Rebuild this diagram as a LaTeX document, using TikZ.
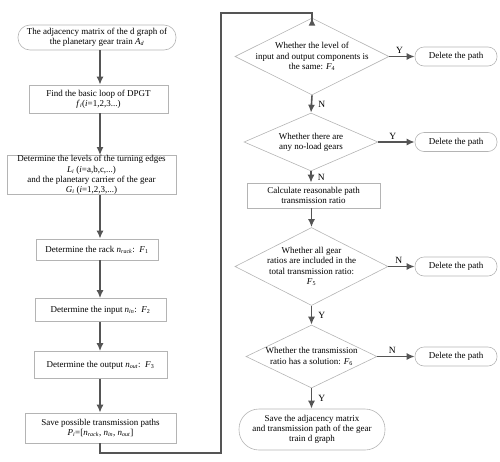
\documentclass[tikz,border=0pt]{standalone}
\usepackage{fontspec}
\setmainfont{Liberation Serif}
\usetikzlibrary{arrows.meta,shapes.geometric}
\definecolor{boxline}{HTML}{B4B4B4}
\definecolor{arrline}{HTML}{555555}
\begin{document}
\begin{tikzpicture}[x=1pt,y=-1pt,
  every node/.style={font=\fontsize{9}{10.3}\selectfont},
  box/.style={draw=boxline,line width=0.6pt,rectangle,inner sep=0pt,align=center,minimum width=#1},
  rbox/.style={draw=boxline,line width=0.6pt,rectangle,rounded corners=9pt,inner sep=0pt,align=center,minimum width=#1},
  dia/.style={draw=boxline,line width=0.6pt,diamond,inner sep=0pt},
  arr/.style={draw=arrline,line width=1.6pt,-{Latex[length=8pt,width=7pt]}},
  loopline/.style={draw=arrline,line width=1.1pt},
  yn/.style={font=\fontsize{9.5}{10}\selectfont,inner sep=0pt}]
\useasboundingbox (0,0) rectangle (500,461);
\coordinate (colx) at (100,0);
% left column
\node[rbox=158,minimum height=25,rounded corners=12pt] (start) at (97,37.5) {The adjacency matrix of the d graph of\\the planetary gear train \textit{A}\textsubscript{\textit{d}}};
\node[box=139,minimum height=28] (loop) at (98.5,99) {Find the basic loop of DPGT\\\textit{f}\textsubscript{\textit{i}}(\textit{i}=1,2,3...)};
\node[box=169,minimum height=38] (levels) at (91.5,175) {Determine the levels of the turning edges\\\textit{L}\textsubscript{\textit{i}} (\textit{i}=a,b,c,...)\\and the planetary carrier of the gear\\\textit{G}\textsubscript{\textit{i}} (\textit{i}=1,2,3,...)};
\node[box=122,minimum height=21] (rack) at (97,249.5) {Determine the rack \textit{n}\textsubscript{\textit{rack}}:\ \ \textit{F}\textsubscript{1}};
\node[box=131,minimum height=23] (input) at (100.5,310) {Determine the input \textit{n}\textsubscript{\textit{in}}:\ \ \textit{F}\textsubscript{2}};
\node[box=133,minimum height=27] (output) at (100.5,365) {Determine the output \textit{n}\textsubscript{\textit{out}}:\ \ \textit{F}\textsubscript{3}};
\node[box=151,minimum height=30] (save) at (100.5,428) {Save possible transmission paths\\\textit{P}\textsubscript{\textit{i}}=[\textit{n}\textsubscript{\textit{rack}}, \textit{n}\textsubscript{\textit{in}}, \textit{n}\textsubscript{\textit{out}}]};
\draw[arr] (start.south -| colx) -- (loop.north -| colx);
\draw[arr] (loop.south -| colx) -- (levels.north -| colx);
\draw[arr] (levels.south -| colx) -- (rack.north -| colx);
\draw[arr] (rack.south -| colx) -- (input.north -| colx);
\draw[arr] (input.south -| colx) -- (output.north -| colx);
\draw[arr] (output.south -| colx) -- (save.north -| colx);
% right column
\node[dia,minimum width=154,minimum height=77,label={[align=center,inner sep=0pt]center:Whether the level of\\input and output components is\\the same: \textit{F}\textsubscript{4}}] (d1) at (312,56.5) {};
\node[rbox=82,minimum height=19] (del1) at (456,56.5) {Delete the path};
\node[dia,minimum width=134,minimum height=58,label={[align=center,inner sep=0pt]center:Whether there are\\any no-load gears}] (d2) at (311,142) {};
\node[rbox=82,minimum height=19] (del2) at (456,142) {Delete the path};
\node[box=133,minimum height=25] (calc) at (313.5,195.5) {Calculate reasonable path\\transmission ratio};
\node[dia,minimum width=153,minimum height=78,label={[align=center,inner sep=0pt]center:Whether all gear\\ratios are included in the\\total transmission ratio:\\\textit{F}\textsubscript{5}}] (d3) at (311.5,266.5) {};
\node[rbox=82,minimum height=19] (del3) at (456,266.5) {Delete the path};
\node[dia,minimum width=131,minimum height=63,label={[align=center,inner sep=0pt]center:Whether the transmission\\ratio has a solution: \textit{F}\textsubscript{6}}] (d4) at (311.5,356.5) {};
\node[rbox=82,minimum height=19] (del4) at (456,356.5) {Delete the path};
\node[rbox=146,minimum height=41,rounded corners=20pt] (final) at (312,429.5) {Save the adjacency matrix\\and transmission path of the gear\\train d graph};
% loop connector
\coordinate (l1) at (221,453);
\coordinate (l2) at (221,13);
\draw[loopline] (save.south -| colx) |- (l1) -- (l2) -| ([yshift=-6pt]d1.north);
\draw[arr] ([yshift=-6pt]d1.north) -- (d1.north);
% right arrows
\draw[arr] (d1.east) -- (del1.west) node[yn,pos=0.4,above=2pt] {Y};
\draw[arr] (d2.east) -- (del2.west) node[yn,pos=0.4,above=2pt] {Y};
\draw[arr] (d3.east) -- (del3.west) node[yn,pos=0.4,above=2pt] {N};
\draw[arr] (d4.east) -- (del4.west) node[yn,pos=0.4,above=2pt] {N};
\draw[arr] (d1.south) -- (d2.north) node[yn,midway,right=6pt] {N};
\draw[arr] (d2.south) -- (calc.north -| d2.south) node[yn,midway,right=6pt] {N};
\draw[arr] (calc.south -| d3.north) -- (d3.north);
\draw[arr] (d3.south) -- (d4.north) node[yn,midway,right=6pt] {Y};
\draw[arr] (d4.south) -- (final.north -| d4.south) node[yn,midway,right=6pt] {Y};
\end{tikzpicture}
\end{document}
